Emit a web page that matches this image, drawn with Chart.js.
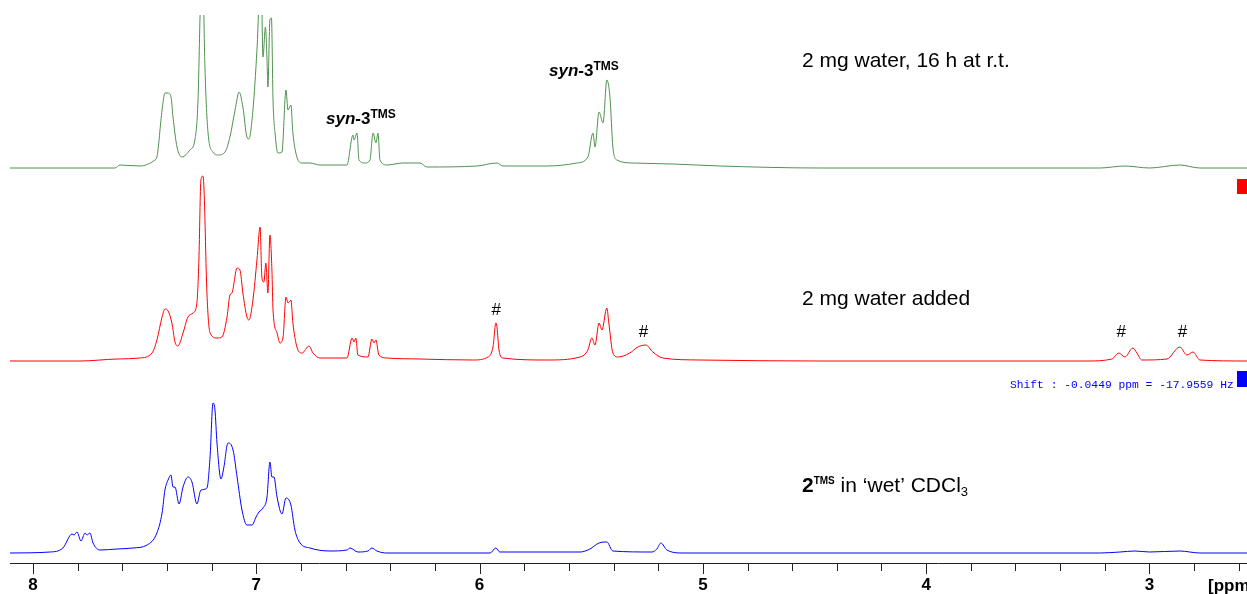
<!DOCTYPE html>
<html>
<head>
<meta charset="utf-8">
<script src="https://cdn.jsdelivr.net/npm/chart.js@4.4.1/dist/chart.umd.min.js"></script>
<style>
  html, body { margin: 0; padding: 0; background: #fff; }
  #wrap { width: 1247px; height: 594px; position: relative; }
</style>
</head>
<body>
<div id="wrap"><canvas id="nmr"></canvas></div>
<script>
// top trace: 2 mg water, 16 h at r.t. (shift in ppm, intensity)
const greenPpm = [8.103, 7.633, 7.610, 7.521, 7.454, 7.445, 7.422, 7.409, 7.395, 7.382, 7.373, 7.355, 7.333, 7.297, 7.275, 7.261, 7.252, 7.243, 7.230, 7.216, 7.194, 7.172, 7.140, 7.118, 7.095, 7.077, 7.060, 7.042, 7.033, 7.015, 6.997, 6.979, 6.970, 6.959, 6.952, 6.948, 6.939, 6.932, 6.925, 6.916, 6.903, 6.885, 6.867, 6.858, 6.845, 6.836, 6.818, 6.795, 6.760, 6.715, 6.594, 6.567, 6.562, 6.549, 6.540, 6.513, 6.491, 6.477, 6.464, 6.455, 6.446, 6.415, 6.343, 6.267, 6.236, 6.012, 5.922, 5.895, 5.698, 5.564, 5.515, 5.492, 5.483, 5.465, 5.447, 5.430, 5.416, 5.403, 5.385, 5.313, 5.134, 4.923, 4.476, 3.222, 3.110, 2.999, 2.864, 2.774, 2.563];
const greenInt = [0, 0, 3, 2, 8, 11, 58, 75, 75, 71, 51, 21, 11, 18, 28, 68, 151, 230, 101, 35, 16, 13, 16, 31, 58, 76, 61, 31, 29, 58, 118, 200, 111, 141, 108, 81, 148, 150, 68, 35, 15, 16, 78, 58, 63, 35, 11, 5, 5, 3, 3, 33, 28, 35, 8, 5, 8, 35, 25, 35, 8, 3, 5, 5, 1, 2, 5, 2, 2, 5, 11, 35, 21, 56, 45, 88, 71, 21, 8, 5, 4, 2, 0, 0, 2, 0, 3, 0, 0];

// middle trace: 2 mg water added
const redPpm = [8.103, 7.790, 7.624, 7.521, 7.467, 7.445, 7.422, 7.409, 7.395, 7.378, 7.364, 7.351, 7.328, 7.306, 7.283, 7.266, 7.257, 7.248, 7.239, 7.234, 7.221, 7.207, 7.176, 7.154, 7.131, 7.118, 7.109, 7.086, 7.073, 7.060, 7.042, 7.033, 7.015, 6.997, 6.983, 6.975, 6.966, 6.957, 6.948, 6.939, 6.930, 6.925, 6.907, 6.894, 6.880, 6.867, 6.858, 6.845, 6.836, 6.818, 6.795, 6.764, 6.746, 6.715, 6.594, 6.571, 6.562, 6.554, 6.545, 6.500, 6.482, 6.473, 6.464, 6.451, 6.415, 6.267, 6.030, 5.962, 5.940, 5.927, 5.922, 5.913, 5.895, 5.698, 5.550, 5.515, 5.497, 5.483, 5.465, 5.452, 5.430, 5.421, 5.403, 5.380, 5.327, 5.291, 5.255, 5.224, 5.179, 5.013, 4.476, 3.280, 3.168, 3.137, 3.110, 3.074, 3.056, 3.034, 2.922, 2.864, 2.832, 2.805, 2.774, 2.563];
const redInt = [0, 0, 2, 3, 8, 21, 44, 52, 50, 38, 19, 15, 28, 44, 48, 58, 101, 181, 185, 171, 68, 28, 23, 24, 44, 66, 68, 93, 91, 68, 44, 41, 61, 101, 134, 84, 79, 98, 68, 126, 91, 51, 28, 18, 24, 64, 58, 61, 38, 14, 8, 15, 8, 3, 3, 23, 19, 23, 6, 4, 22, 18, 21, 6, 3, 2, 1, 4, 14, 38, 34, 11, 3, 1, 4, 11, 23, 16, 38, 31, 53, 38, 8, 4, 8, 14, 16, 9, 3, 1, 0, 0, 2, 8, 4, 13, 8, 1, 2, 14, 6, 9, 1, 0];

// bottom trace: 2TMS in 'wet' CDCl3
const bluePpm = [8.103, 7.924, 7.866, 7.825, 7.816, 7.803, 7.785, 7.767, 7.758, 7.745, 7.731, 7.700, 7.624, 7.552, 7.489, 7.445, 7.422, 7.409, 7.395, 7.382, 7.373, 7.364, 7.346, 7.328, 7.306, 7.288, 7.266, 7.248, 7.221, 7.207, 7.194, 7.185, 7.176, 7.158, 7.145, 7.127, 7.104, 7.086, 7.064, 7.042, 7.019, 7.001, 6.988, 6.970, 6.952, 6.939, 6.930, 6.921, 6.907, 6.885, 6.867, 6.845, 6.827, 6.804, 6.760, 6.670, 6.594, 6.580, 6.545, 6.500, 6.482, 6.460, 6.415, 5.953, 5.927, 5.909, 5.550, 5.506, 5.465, 5.430, 5.403, 5.228, 5.206, 5.188, 5.161, 5.089, 3.222, 3.132, 3.065, 2.999, 2.864, 2.774, 2.563];
const blueInt = [0, 1, 5, 19, 18, 21, 12, 20, 18, 20, 10, 3, 4, 5, 8, 20, 40, 63, 73, 78, 66, 66, 49, 66, 76, 71, 49, 63, 65, 96, 150, 143, 110, 74, 86, 110, 103, 76, 43, 28, 28, 36, 41, 45, 56, 91, 76, 76, 56, 39, 55, 48, 23, 10, 5, 2, 3, 5, 1, 2, 5, 2, 0, 0, 5, 1, 1, 4, 10, 11, 2, 1, 4, 10, 3, 0, 0, 1, 2, 1, 2, 0, 0];

const majorTicks = [3, 4, 5, 6, 7, 8];
const hashPeaks = [5.925, 5.266, 3.126, 2.852];

// vertical stacking of the three traces (baseline in y units)
const offsets = { green: 395, red: 202, blue: 10 };

function toPoints(ppm, vals, off) {
  return ppm.map((p, i) => ({ x: p, y: vals[i] + off }));
}

const SANS = '"Liberation Sans", Arial, sans-serif';

function drawRuns(ctx, x, y, runs) {
  runs.forEach(r => {
    ctx.font = r.font;
    ctx.fillText(r.text, x, y + (r.dy || 0));
    x += ctx.measureText(r.text).width;
  });
}

const decorations = {
  id: 'decorations',
  afterDraw(chart) {
    const ctx = chart.ctx;
    const xs = chart.scales.x;
    const axisY = chart.chartArea.bottom;
    ctx.save();

    // axis ticks: long at integers, short every 0.2 ppm
    ctx.strokeStyle = '#222';
    ctx.lineWidth = 1;
    for (let v = Math.ceil(xs.min / 0.2) * 0.2; v <= xs.max + 1e-6; v += 0.2) {
      const px = Math.round(xs.getPixelForValue(v)) + 0.5;
      const major = Math.abs(v - Math.round(v)) < 1e-6;
      ctx.beginPath();
      ctx.moveTo(px, axisY);
      ctx.lineTo(px, axisY + (major ? 11 : 8));
      ctx.stroke();
    }

    ctx.fillStyle = '#000';
    ctx.textBaseline = 'alphabetic';
    ctx.textAlign = 'left';
    ctx.font = 'bold 17px ' + SANS;
    ctx.fillText('[ppm]', 1208, 591);

    // trace captions
    ctx.font = '21px ' + SANS;
    ctx.fillText('2 mg water, 16 h at r.t.', 802, 67);
    ctx.fillText('2 mg water added', 802, 305);

    drawRuns(ctx, 802, 492, [
      { text: '2', font: 'bold 21px ' + SANS },
      { text: 'TMS', font: 'bold 10px ' + SANS, dy: -8 },
      { text: ' in \u2018wet\u2019 CDCl', font: '21px ' + SANS },
      { text: '3', font: '13px ' + SANS, dy: 4 }
    ]);

    const synLabel = [
      { text: 'syn', font: 'italic bold 17px ' + SANS },
      { text: '-3', font: 'bold 17px ' + SANS },
      { text: 'TMS', font: 'bold 12px ' + SANS, dy: -6 }
    ];
    drawRuns(ctx, 549, 76, synLabel);
    drawRuns(ctx, 326, 124, synLabel);

    // water / impurity markers
    ctx.font = '17px ' + SANS;
    ctx.textAlign = 'center';
    hashPeaks.forEach((p, i) => {
      ctx.fillText('#', xs.getPixelForValue(p), i === 0 ? 315 : 337);
    });

    // shift readout and trace handles
    ctx.textAlign = 'left';
    ctx.fillStyle = '#0000ff';
    ctx.font = '11.3px "Liberation Mono", "Courier New", monospace';
    ctx.fillText('Shift : -0.0449 ppm = -17.9559 Hz', 1010, 388);
    ctx.fillRect(1237, 371, 10, 16);
    ctx.fillStyle = '#ff0000';
    ctx.fillRect(1237, 179, 10, 15);

    ctx.restore();
  }
};

new Chart(document.getElementById('nmr'), {
  type: 'line',
  data: {
    datasets: [
      { label: 'wet 16 h', data: toPoints(greenPpm, greenInt, offsets.green), borderColor: 'rgb(80,145,80)' },
      { label: 'water added', data: toPoints(redPpm, redInt, offsets.red), borderColor: 'rgb(255,0,0)' },
      { label: '2TMS', data: toPoints(bluePpm, blueInt, offsets.blue), borderColor: 'rgb(0,0,255)' }
    ]
  },
  options: {
    responsive: true,
    maintainAspectRatio: false,
    animation: false,
    layout: { padding: { top: 15, left: 10, right: 0, bottom: -14 } },
    elements: {
      line: { borderWidth: 1, cubicInterpolationMode: 'monotone', fill: false },
      point: { radius: 0, hoverRadius: 0 }
    },
    plugins: { legend: { display: false }, tooltip: { enabled: false } },
    scales: {
      x: {
        type: 'linear',
        reverse: true,
        min: 2.563,
        max: 8.103,
        afterBuildTicks: scale => { scale.ticks = majorTicks.map(v => ({ value: v })); },
        grid: { display: false, drawTicks: false, tickLength: 0 },
        border: { display: true, color: '#222', width: 1 },
        ticks: {
          color: '#000',
          padding: 14,
          maxRotation: 0,
          autoSkip: false,
          font: { family: SANS, size: 17, weight: 'bold', lineHeight: 1 },
          callback: v => String(v)
        }
      },
      y: { display: false, min: 0, max: 548 }
    }
  },
  plugins: [decorations]
});
</script>
</body>
</html>
